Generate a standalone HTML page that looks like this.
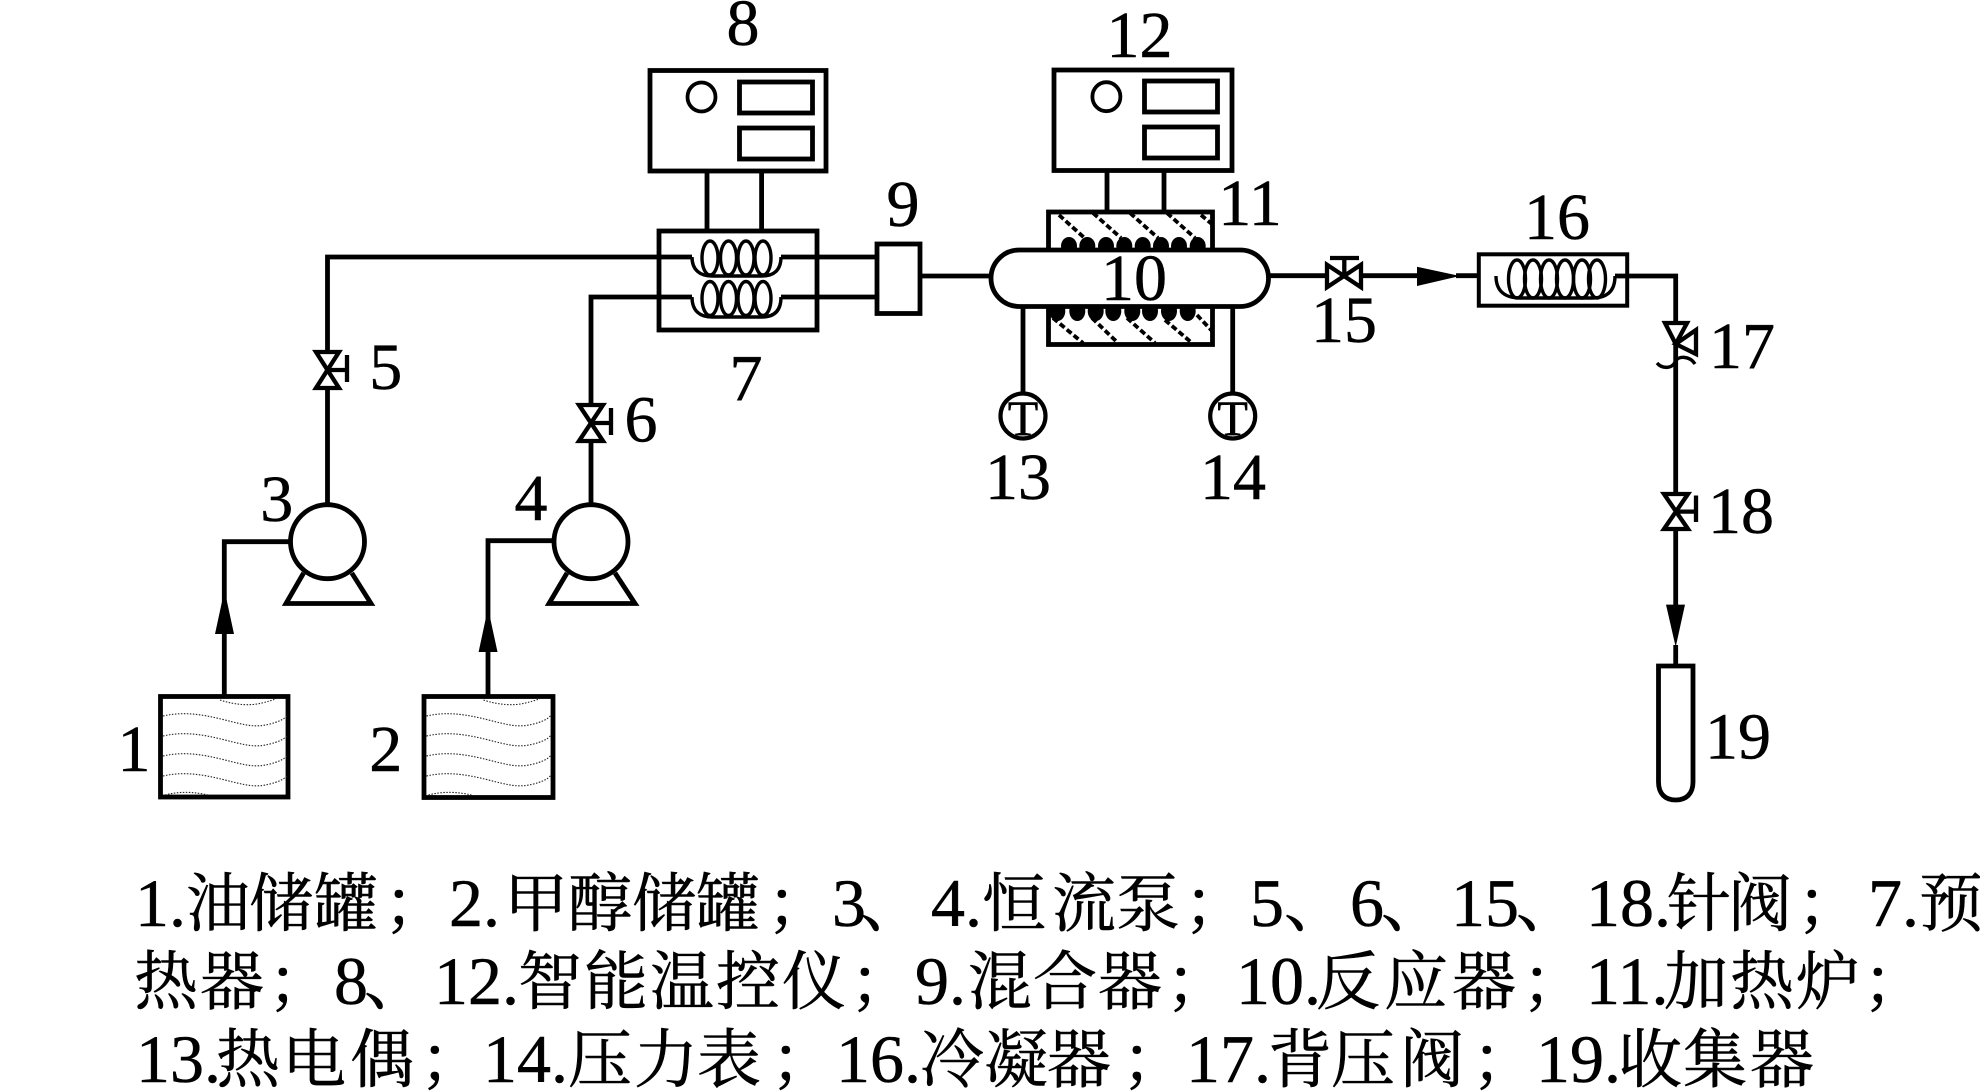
<!DOCTYPE html>
<html lang="zh">
<head>
<meta charset="utf-8">
<title>Process diagram</title>
<style>
html,body{margin:0;padding:0;background:#fff;}
svg{display:block;}
.n{font-family:"Liberation Serif",serif;font-size:66px;fill:#000;stroke:#000;stroke-width:.5px;text-anchor:middle;}
.t{font-family:"Liberation Serif",serif;font-size:50px;fill:#000;stroke:#000;stroke-width:.5px;text-anchor:middle;}
.c{font-family:"Noto Serif CJK SC","Liberation Serif",serif;font-size:64px;fill:#000;stroke:#000;stroke-width:.6px;}
.l{font-family:"Liberation Serif",serif;font-size:68px;fill:#000;stroke:#000;stroke-width:.5px;}
</style>
</head>
<body>
<svg width="1980" height="1092" viewBox="0 0 1980 1092" xmlns="http://www.w3.org/2000/svg">
<rect width="1980" height="1092" fill="#fff"/>
<defs>
<g id="wave" fill="none" stroke="#222" stroke-width="1.1" stroke-dasharray="1.5 1.5">
<path d="M220,700 C235,705 250,706 262,703 S272,700 276,699"/>
<path d="M163,716 C185,711 205,715 225,720 S255,728 270,724 S285,717 288,715"/>
<path d="M163,736 C185,731 205,735 225,740 S255,748 270,744 S285,737 288,735"/>
<path d="M163,756 C185,751 205,755 225,760 S255,768 270,764 S285,757 288,755"/>
<path d="M163,776 C185,771 205,775 225,780 S255,788 270,784 S285,777 288,775"/>
<path d="M165,795 C180,791 195,792 208,795"/>
</g>
</defs>

<g fill="none" stroke="#000" stroke-width="4.8">
<!-- tanks -->
<rect x="160.5" y="696.5" width="127.5" height="100.5"/>
<rect x="424" y="696.5" width="129" height="101"/>
<!-- inlet pipes -->
<path d="M224.3,695 V541.7 H289"/>
<path d="M488,695 V540.7 H553"/>
<!-- pumps -->
<circle cx="327.5" cy="541.7" r="37"/>
<circle cx="591" cy="541.7" r="37"/>
<path d="M303.6,573 L286,603.5 H371 L351.8,573"/>
<path d="M567,573 L549,603.5 H635 L615,573"/>
<!-- upper pipes -->
<path d="M327.5,503 V390 M327.5,350 V257 H692"/>
<path d="M591,503 V443 M591,403 V297 H692"/>
<path d="M781,257 H875 M781,297 H875"/>
<!-- controller 8 -->
<rect x="650" y="70.5" width="176" height="100.5"/>
<rect x="739.5" y="82" width="73" height="31"/>
<rect x="739.5" y="128" width="73" height="31"/>
<ellipse cx="701.5" cy="97" rx="14" ry="14.5" stroke-width="3.8"/>
<path d="M707,173 V229 M761.6,173 V229"/>
<!-- preheater 7 -->
<rect x="659" y="231" width="158" height="99"/>
<!-- mixer -->
<rect x="877" y="244" width="43" height="69.5" fill="#fff"/>
<path d="M921,276 H990"/>
<!-- controller 12 -->
<rect x="1054" y="70" width="178" height="100.5"/>
<rect x="1144.5" y="81" width="73" height="31"/>
<rect x="1144.5" y="127" width="73" height="31"/>
<ellipse cx="1106.4" cy="96.7" rx="14" ry="14.5" stroke-width="3.8"/>
<path d="M1107,172 V210 M1164,172 V210"/>
<!-- furnace -->
<rect x="1048.5" y="212" width="164" height="132.5"/>
</g>

<!-- coils -->
<g fill="none" stroke="#000" stroke-width="3.4">
<ellipse cx="710" cy="258" rx="8" ry="17"/>
<ellipse cx="728.5" cy="258" rx="8" ry="17"/>
<ellipse cx="746" cy="258" rx="8" ry="17"/>
<ellipse cx="763" cy="258" rx="8" ry="17"/>
<path d="M692,257 C692,270 700,276 712,276 L762,276 C774,276 781,270 781,257"/>
<ellipse cx="710" cy="298.5" rx="8" ry="17"/>
<ellipse cx="728.5" cy="298.5" rx="8" ry="17"/>
<ellipse cx="746" cy="298.5" rx="8" ry="17"/>
<ellipse cx="763" cy="298.5" rx="8" ry="17"/>
<path d="M692,297 C692,311 700,317 712,317 L762,317 C774,317 781,311 781,297"/>
<ellipse cx="1517" cy="279" rx="8.5" ry="19"/>
<ellipse cx="1533" cy="279" rx="8.5" ry="19"/>
<ellipse cx="1549" cy="279" rx="8.5" ry="19"/>
<ellipse cx="1565" cy="279" rx="8.5" ry="19"/>
<ellipse cx="1582" cy="279" rx="8.5" ry="19"/>
<ellipse cx="1597" cy="279" rx="8.5" ry="19"/>
<path d="M1496,276 C1496,292 1506,298 1520,298 L1592,298 C1606,298 1615,292 1615,276"/>
</g>

<!-- furnace hatches -->
<g fill="none" stroke="#000" stroke-width="3.8" stroke-dasharray="6 3">
<path d="M1059,215 L1089,242 M1093,213 L1121,238 M1130,213 L1158,238 M1167,213 L1195,238 M1201,215 L1213,225"/>
<path d="M1053,318 L1083,343 M1092,318 L1118,343 M1127,318 L1155,343 M1165,320 L1192,343 M1197,315 L1213,332"/>
</g>
<!-- furnace heating dots -->
<g fill="#000">
<ellipse cx="1069" cy="246" rx="8" ry="9"/>
<ellipse cx="1087.3" cy="246" rx="8" ry="9"/>
<ellipse cx="1106" cy="246" rx="8" ry="9"/>
<ellipse cx="1124.3" cy="246" rx="8" ry="9"/>
<ellipse cx="1142.7" cy="246" rx="8" ry="9"/>
<ellipse cx="1161" cy="246" rx="8" ry="9"/>
<ellipse cx="1179" cy="246" rx="8" ry="9"/>
<ellipse cx="1197.7" cy="246" rx="8" ry="9"/>
<ellipse cx="1057.3" cy="311" rx="8" ry="10"/>
<ellipse cx="1077.3" cy="311" rx="8" ry="10"/>
<ellipse cx="1095.7" cy="311" rx="8" ry="10"/>
<ellipse cx="1113.3" cy="311" rx="8" ry="10"/>
<ellipse cx="1132.3" cy="311" rx="8" ry="10"/>
<ellipse cx="1150" cy="311" rx="8" ry="10"/>
<ellipse cx="1169" cy="311" rx="8" ry="10"/>
<ellipse cx="1187.7" cy="311" rx="8" ry="10"/>
</g>

<g fill="none" stroke="#000" stroke-width="4.8">
<!-- reactor -->
<rect x="991" y="250" width="277.5" height="56.5" rx="28.2" ry="28.2" fill="#fff"/>
<path d="M1270,275.7 H1325 M1363,275.7 H1420 M1456,275.7 H1477"/>
<!-- thermocouples -->
<path d="M1023,308 V392 M1232.7,308 V392"/>
<circle cx="1023" cy="416" r="22.5" stroke-width="4.2"/>
<circle cx="1232.7" cy="416" r="22.5" stroke-width="4.2"/>
<!-- outlet -->
<path d="M1615,276 H1675.7 V321"/>
<path d="M1675.7,345 V492 M1675.7,531 V606 M1675.7,645 V664"/>
<!-- collector -->
<path d="M1658.5,666 H1693 V782 C1693,794 1686,800 1675.7,800 S1658.5,794 1658.5,782 Z"/>
</g>
<rect x="1478.8" y="254.3" width="148.4" height="51.4" fill="none" stroke="#000" stroke-width="4"/>

<!-- valves -->
<g fill="none" stroke="#000" stroke-width="4.3">
<path d="M316,352 H339 L316,388 H339 Z"/>
<path d="M327.5,370 H346 M347,355 V382"/>
<path d="M579,405 H603 L579,441 H603 Z"/>
<path d="M591,423 H610 M611,408 V435"/>
<path d="M1327,264.7 V287.3 L1361,264.7 V287.3 Z"/>
<path d="M1344.3,276 V258 M1330,258 H1359"/>
<path d="M1665,323 H1687 L1675.7,344 Z"/>
<path d="M1675.7,344 L1696,330 V354 Z"/>
<path d="M1664,494 H1688 L1664,529 H1688 Z"/>
<path d="M1675.7,511.6 H1695 M1696,495.5 V522"/>
</g>
<path d="M1657,363 C1662,369 1672,369 1675,362 S1690,356 1695,364" fill="none" stroke="#000" stroke-width="3.4"/>

<!-- arrowheads -->
<g fill="#000">
<polygon points="224.5,590 215,634 234,634"/>
<polygon points="488,608 478.6,652 497.5,652"/>
<polygon points="1460,276 1417,266.7 1417,286"/>
<polygon points="1675.7,647 1666,604.6 1685,604.6"/>
</g>

<!-- tank waves -->
<use href="#wave"/>
<use href="#wave" x="263.5"/>

<!-- labels -->
<text class="n" x="743" y="45">8</text>
<text class="n" x="1139.5" y="57">12</text>
<text class="n" x="903" y="226">9</text>
<text class="n" x="1250" y="225">11</text>
<text class="n" x="1134" y="300">10</text>
<text class="n" x="746" y="400">7</text>
<text class="n" x="134" y="771">1</text>
<text class="n" x="385.7" y="771">2</text>
<text class="n" x="276.8" y="521">3</text>
<text class="n" x="531" y="520">4</text>
<text class="n" x="385.7" y="389">5</text>
<text class="n" x="641" y="441.7">6</text>
<text class="n" x="1018" y="499">13</text>
<text class="n" x="1233" y="499">14</text>
<text class="n" x="1344" y="342">15</text>
<text class="n" x="1557" y="239">16</text>
<text class="n" x="1742" y="368">17</text>
<text class="n" x="1741" y="533">18</text>
<text class="n" x="1738" y="758.5">19</text>
<text class="t" x="1023" y="435">T</text>
<text class="t" x="1232.7" y="435">T</text>

<!-- caption line 1 -->
<text class="l" x="135" y="926">1.</text>
<text class="c" x="186 249 314 384" y="926">油储罐；</text>
<text class="l" x="449" y="926">2.</text>
<text class="c" x="504 568 632 696 767" y="926">甲醇储罐；</text>
<text class="l" x="832" y="926">3</text>
<text class="c" x="860" y="926">、</text>
<text class="l" x="931" y="926">4.</text>
<text class="c" x="982 1052 1116 1184" y="926">恒流泵；</text>
<text class="l" x="1250" y="926">5</text>
<text class="c" x="1284" y="926">、</text>
<text class="l" x="1350" y="926">6</text>
<text class="c" x="1381" y="926">、</text>
<text class="l" x="1451" y="926">15</text>
<text class="c" x="1516" y="926">、</text>
<text class="l" x="1586" y="926">18.</text>
<text class="c" x="1667 1728 1797" y="926">针阀；</text>
<text class="l" x="1868" y="926">7.</text>
<text class="c" x="1919" y="926">预</text>

<!-- caption line 2 -->
<text class="c" x="134 200 268" y="1004">热器；</text>
<text class="l" x="334" y="1004">8</text>
<text class="c" x="364" y="1004">、</text>
<text class="l" x="434" y="1004">12.</text>
<text class="c" x="518 584 650 716 782 850" y="1004">智能温控仪；</text>
<text class="l" x="915" y="1004">9.</text>
<text class="c" x="968 1033 1098 1166" y="1004">混合器；</text>
<text class="l" x="1236" y="1004">10.</text>
<text class="c" x="1316 1384 1452 1522" y="1004">反应器；</text>
<text class="l" x="1586" y="1004">11.</text>
<text class="c" x="1664 1730 1796 1863" y="1004">加热炉；</text>

<!-- caption line 3 -->
<text class="l" x="136" y="1082">13.</text>
<text class="c" x="216 282 350 420" y="1082">热电偶；</text>
<text class="l" x="483" y="1082">14.</text>
<text class="c" x="568 634 697 771" y="1082">压力表；</text>
<text class="l" x="836" y="1082">16.</text>
<text class="c" x="920 984 1047 1122" y="1082">冷凝器；</text>
<text class="l" x="1186" y="1082">17.</text>
<text class="c" x="1268 1331 1400 1472" y="1082">背压阀；</text>
<text class="l" x="1536" y="1082">19.</text>
<text class="c" x="1618 1683 1750" y="1082">收集器</text>
</svg>
</body>
</html>
